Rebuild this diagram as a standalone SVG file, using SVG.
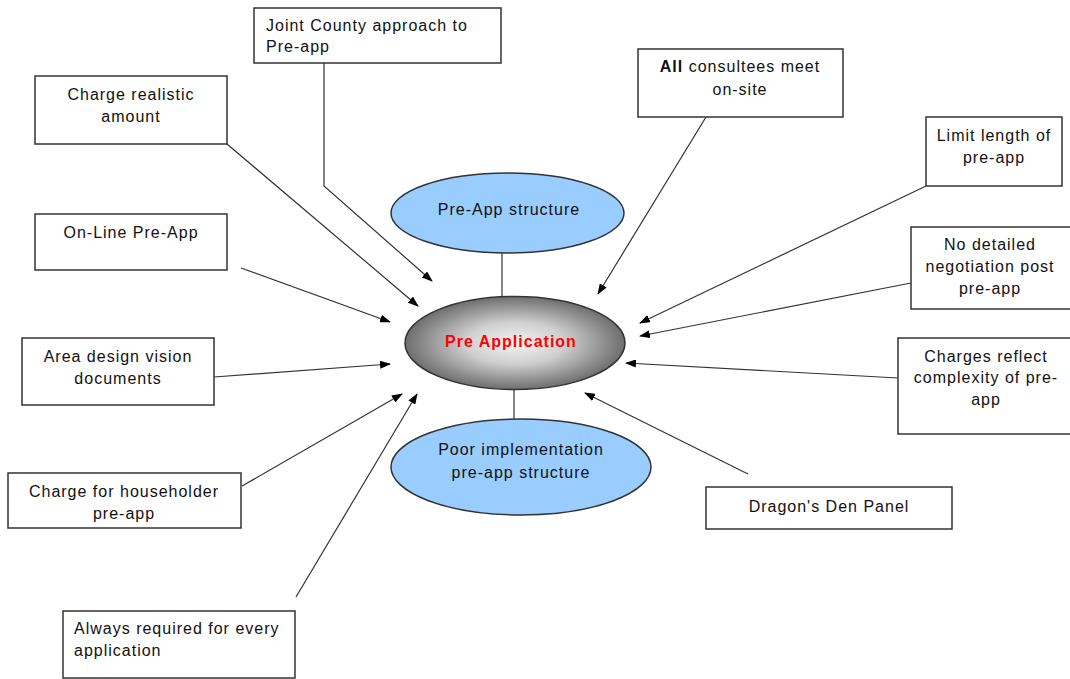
<svg xmlns="http://www.w3.org/2000/svg" width="1070" height="679" viewBox="0 0 1070 679">
<defs>
<marker id="ah" markerWidth="11" markerHeight="8" refX="10" refY="4" orient="auto" markerUnits="userSpaceOnUse">
<path d="M0,0 L11,4 L0,8 z" fill="#000"/>
</marker>
<radialGradient id="gray" cx="50%" cy="50%" r="50%">
<stop offset="0" stop-color="#f4f4f4"/>
<stop offset="0.45" stop-color="#cfcfcf"/>
<stop offset="1" stop-color="#6e6e6e"/>
</radialGradient>
<style>
.box{fill:#fff;stroke:#333;stroke-width:1.5}
.t{font-family:"Liberation Sans",Arial,sans-serif;font-size:16px;letter-spacing:1px;fill:#111}
.c{text-anchor:middle}
.blue{fill:#99ccff;stroke:#333;stroke-width:1.5}
.ln{fill:none;stroke:#333;stroke-width:1.2}
.ar{fill:none;stroke:#333;stroke-width:1.2;marker-end:url(#ah)}
</style>
</defs>
<rect width="1070" height="679" fill="#fff"/>
<g id="connectors">
<line class="ln" x1="502" y1="253" x2="502" y2="297"/>
<line class="ln" x1="514" y1="390" x2="514" y2="419"/>
<polyline class="ar" points="324,63 324,186 432,281"/>
<line class="ar" x1="227" y1="144" x2="418" y2="306"/>
<line class="ar" x1="241" y1="268" x2="390" y2="322"/>
<line class="ar" x1="214" y1="377" x2="390" y2="364"/>
<line class="ar" x1="242" y1="486" x2="402" y2="394"/>
<line class="ar" x1="296" y1="597" x2="417" y2="394"/>
<line class="ar" x1="706" y1="117" x2="598" y2="294"/>
<line class="ar" x1="926" y1="186" x2="640" y2="323"/>
<line class="ar" x1="911" y1="283" x2="640" y2="336"/>
<line class="ar" x1="898" y1="378" x2="626" y2="363"/>
<line class="ar" x1="748" y1="474" x2="585" y2="393"/>
</g>
<g id="joint-county">
<rect class="box" x="254" y="8" width="247" height="55"/>
<text class="t" x="266" y="31">Joint County approach to</text>
<text class="t" x="266" y="52">Pre-app</text>
</g>
<g id="charge-realistic">
<rect class="box" x="35" y="76" width="192" height="68"/>
<text class="t c" x="131" y="100">Charge realistic</text>
<text class="t c" x="131" y="122">amount</text>
</g>
<g id="online">
<rect class="box" x="35" y="214" width="192" height="56"/>
<text class="t c" x="131" y="238">On-Line Pre-App</text>
</g>
<g id="area-design">
<rect class="box" x="22" y="338" width="192" height="67"/>
<text class="t c" x="118" y="362">Area design vision</text>
<text class="t c" x="118" y="384">documents</text>
</g>
<g id="householder">
<rect class="box" x="8" y="473" width="233" height="55"/>
<text class="t c" x="124" y="497">Charge for householder</text>
<text class="t c" x="124" y="519">pre-app</text>
</g>
<g id="always">
<rect class="box" x="63" y="611" width="232" height="67"/>
<text class="t" x="74" y="634">Always required for every</text>
<text class="t" x="74" y="656">application</text>
</g>
<g id="all-consultees">
<rect class="box" x="638" y="49" width="205" height="68"/>
<text class="t c" x="740" y="72"><tspan font-weight="bold">All</tspan> consultees meet</text>
<text class="t c" x="740" y="95">on-site</text>
</g>
<g id="limit-length">
<rect class="box" x="926" y="117" width="136" height="69"/>
<text class="t c" x="994" y="141">Limit length of</text>
<text class="t c" x="994" y="163">pre-app</text>
</g>
<g id="no-detailed">
<rect class="box" x="911" y="227" width="162" height="82"/>
<text class="t c" x="990" y="250">No detailed</text>
<text class="t c" x="990" y="272">negotiation post</text>
<text class="t c" x="990" y="294">pre-app</text>
</g>
<g id="charges-reflect">
<rect class="box" x="898" y="338" width="175" height="96"/>
<text class="t c" x="986" y="362">Charges reflect</text>
<text class="t c" x="986" y="383">complexity of pre-</text>
<text class="t c" x="986" y="405">app</text>
</g>
<g id="dragons-den">
<rect class="box" x="706" y="487" width="246" height="42"/>
<text class="t c" x="829" y="512">Dragon's Den Panel</text>
</g>
<g id="pre-app-structure">
<ellipse class="blue" cx="507.5" cy="213" rx="116.5" ry="40"/>
<text class="t c" x="509" y="215">Pre-App structure</text>
</g>
<g id="pre-application">
<ellipse cx="515" cy="343" rx="110" ry="46.5" fill="url(#gray)" stroke="#333" stroke-width="1.5"/>
<text class="t c" x="511" y="347" font-weight="bold" style="fill:#ff0000">Pre Application</text>
</g>
<g id="poor-implementation">
<ellipse class="blue" cx="521" cy="467" rx="130" ry="48"/>
<text class="t c" x="521" y="455">Poor implementation</text>
<text class="t c" x="521" y="478">pre-app structure</text>
</g>
</svg>
